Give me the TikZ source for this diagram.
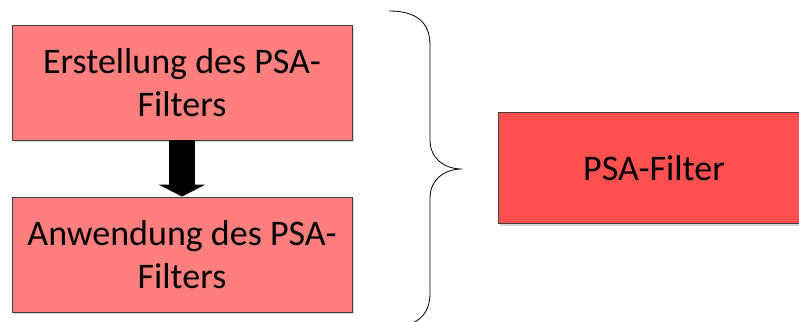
\documentclass[tikz,border=0pt]{standalone}
\usepackage{fontspec}
\setmainfont{Carlito}
\usetikzlibrary{arrows.meta}
\definecolor{stepred}{HTML}{FF7F7F}
\definecolor{mainred}{HTML}{FF5050}
\definecolor{edgegrey}{HTML}{404040}
\definecolor{shadowgrey}{HTML}{D4D4D4}
\tikzset{
  x=1pt, y=-1pt,
  box/.style={draw=edgegrey, line width=0.8pt, inner sep=0pt, align=center,
    font=\fontsize{36}{43}\selectfont,
    shadowbox},
  shadowbox/.style={preaction={fill=shadowgrey, draw=none, transform canvas={shift={(2pt,-2pt)}}}},
  stepbox/.style={box, fill=stepred, minimum width=340pt, minimum height=115pt},
  resultbox/.style={box, fill=mainred, minimum width=312pt, minimum height=111pt},
  blockarrow/.style={line width=26pt, -{Triangle[width=46pt,length=12pt]}},
  bracestyle/.style={draw=black, line width=0.8pt}
}
\begin{document}
\begin{tikzpicture}
  \useasboundingbox (0,0) rectangle (799,321);
  \clip (0,0) rectangle (799,321);

  % process steps
  \node[stepbox] (make) at (182,82.5) {Erstellung des PSA-\\Filters};
  \node[stepbox] (apply) at (182,254.5) {Anwendung des PSA-\\Filters};
  \draw[blockarrow] (make.south) -- (apply.north);

  % curly brace grouping both steps
  \coordinate (btop) at (389,11);
  \coordinate (btip) at (462,169);
  \coordinate (bbot) at (389,327);
  \path[bracestyle] (btop)
    .. controls (416,11) and (430,22) .. (430,45)
    -- (430,140)
    .. controls (430,158) and (444,169) .. (btip)
    .. controls (444,169) and (430,180) .. (430,198)
    -- (430,293)
    .. controls (430,316) and (416,327) .. (bbot);

  % result
  \node[resultbox] (result) at (654,168) {PSA-Filter};
\end{tikzpicture}
\end{document}
